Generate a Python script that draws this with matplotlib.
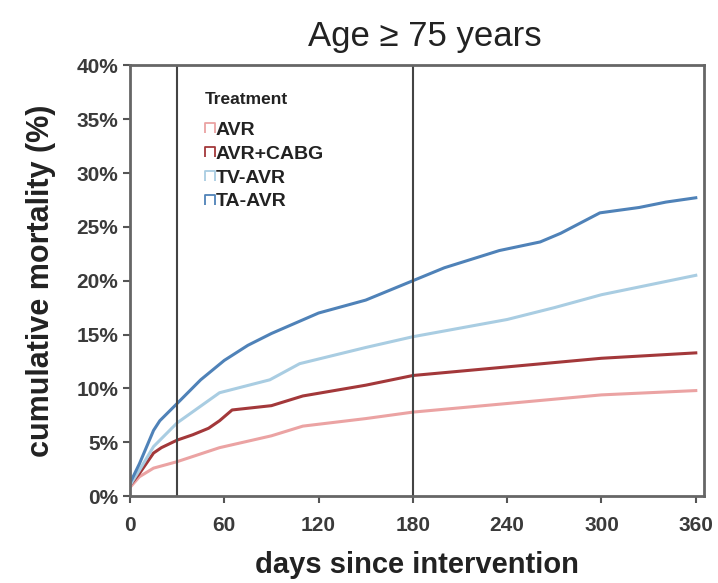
import matplotlib
matplotlib.use("Agg")
import matplotlib.pyplot as plt
from matplotlib.lines import Line2D
from matplotlib.path import Path

plt.rcParams["font.family"] = ["Liberation Sans", "DejaVu Sans"]

# ---- data (days, cumulative mortality %) ----
avr_days = [0, 6, 15, 30, 57, 90, 110, 150, 180, 240, 300, 360]
avr_vals = [0.8, 1.8, 2.6, 3.2, 4.5, 5.6, 6.5, 7.2, 7.8, 8.6, 9.4, 9.8]

cabg_days = [0, 6, 15, 20, 30, 40, 50, 57, 65, 90, 110, 150, 180, 240, 300, 360]
cabg_vals = [1.0, 2.1, 4.0, 4.5, 5.2, 5.7, 6.3, 7.0, 8.0, 8.4, 9.3, 10.3, 11.2, 12.0, 12.8, 13.3]

tv_days = [0, 6, 15, 30, 57, 89, 108, 150, 180, 210, 240, 270, 300, 330, 360]
tv_vals = [1.0, 2.4, 4.6, 6.8, 9.6, 10.8, 12.3, 13.8, 14.8, 15.6, 16.4, 17.5, 18.7, 19.6, 20.5]

ta_days = [0, 6, 15, 19, 30, 45, 60, 75, 90, 120, 150, 180, 200, 235, 261, 274, 299, 324, 341, 360]
ta_vals = [1.2, 3.0, 6.1, 7.0, 8.6, 10.8, 12.6, 14.0, 15.1, 17.0, 18.2, 20.0, 21.2, 22.8, 23.6, 24.4, 26.3, 26.8, 27.3, 27.7]

labels = ["AVR", "AVR+CABG", "TV-AVR", "TA-AVR"]
colors = ["#eba3a3", "#a3383a", "#a9cde2", "#4f82b8"]
series = [(avr_days, avr_vals), (cabg_days, cabg_vals), (tv_days, tv_vals), (ta_days, ta_vals)]
x_ticks = [0, 60, 120, 180, 240, 300, 360]
y_ticks = [0, 5, 10, 15, 20, 25, 30, 35, 40]
markers_days = [30, 180]

fig = plt.figure(figsize=(7.18, 5.83), dpi=100)
ax = fig.add_axes([0.181, 0.149, 0.799, 0.739])

for (d, v), c in zip(series, colors):
    ax.plot(d, v, color=c, linewidth=2.2)

for m in markers_days:
    ax.axvline(m, color="#444444", linewidth=1.5)

ax.set_xlim(0, 365)
ax.set_ylim(0, 40)
ax.set_xticks(x_ticks)
ax.set_yticks(y_ticks)
ax.set_yticklabels([f"{t}%" for t in y_ticks])
ax.tick_params(colors="#555555", labelcolor="#3a3a3a", labelsize=15, width=1.5, length=5)
ax.tick_params(axis="x", pad=9)
for lab in ax.get_xticklabels() + ax.get_yticklabels():
    lab.set_fontweight("bold")
for sp in ax.spines.values():
    sp.set_color("#666666")
    sp.set_linewidth(2)

ax.set_xlabel("days since intervention", fontsize=21, fontweight="bold", color="#222222")
ax.set_ylabel("cumulative mortality (%)", fontsize=22, fontweight="bold", color="#222222")
ax.xaxis.set_label_coords(0.5, -0.16)
ax.xaxis.label.set_va("center")
ax.yaxis.set_label_coords(-0.155, 0.5)
ax.yaxis.label.set_va("center")
fig.text(0.592, 0.937, "Age \u2265 75 years", fontsize=25, ha="center", va="center", color="#222222")

# open-bottom square handle like the reference legend keys
cap = Path([(-1, -1), (-1, 1), (1, 1), (1, -1)],
           [Path.MOVETO, Path.LINETO, Path.LINETO, Path.LINETO])
handles = [Line2D([], [], linestyle="none", marker=cap, markersize=7,
                  markerfacecolor="none", markeredgecolor=c, markeredgewidth=1.3)
           for c in colors]
leg = ax.legend(handles, labels, title="Treatment", loc="upper left",
                bbox_to_anchor=(0.117, 0.955), frameon=False,
                handlelength=0.5, handletextpad=0.05, labelspacing=0.32,
                prop={"weight": "bold", "size": 14}, borderaxespad=0)
leg.get_title().set_fontweight("bold")
leg.get_title().set_fontsize(12.5)
leg.get_title().set_color("#222222")
for t in leg.get_texts():
    t.set_color("#222222")
leg._legend_box.align = "left"
leg._legend_box.sep = 10

fig.savefig("out.png", dpi=100)
